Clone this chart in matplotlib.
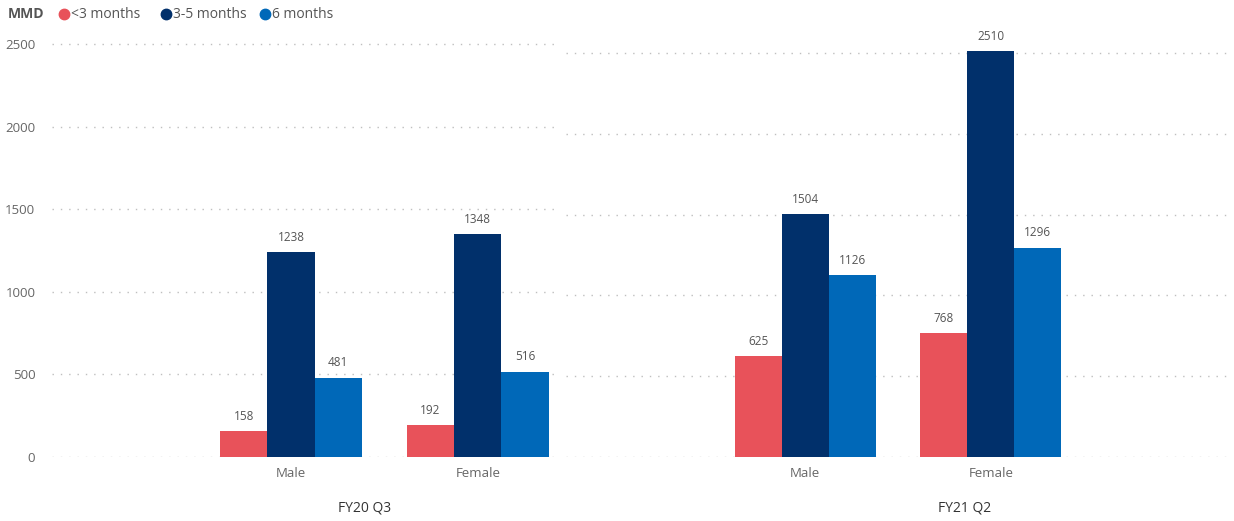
import matplotlib.pyplot as plt
from matplotlib.lines import Line2D
import numpy as np

plt.rcParams['font.family'] = ['Open Sans', 'DejaVu Sans']

W, H = 1234, 521

periods = ['FY20 Q3', 'FY21 Q2']
genders = ['Male', 'Female']
series = ['<3 months', '3-5 months', '6 months']
colors = ['#E8525A', '#01306B', '#0068B8']

# values[period][series] -> [Male, Female]
values = {
    'FY20 Q3': {'<3 months': [158, 192], '3-5 months': [1238, 1348], '6 months': [481, 516]},
    'FY21 Q2': {'<3 months': [625, 768], '3-5 months': [1504, 2510], '6 months': [1126, 1296]},
}
yticks = [0, 500, 1000, 1500, 2000, 2500]

fig = plt.figure(figsize=(W / 100, H / 100), dpi=100)


def px_axes(x0, x1, y_top, y_bot):
    return fig.add_axes([x0 / W, 1 - y_bot / H, (x1 - x0) / W, (y_bot - y_top) / H])


# panel geometry (pixels), x-limits in category units, pixels per unit value
panels = [
    dict(x0=52, x1=560, xlim=(-1.28, 1.44), scale=0.1652, ylab=True, tx=365),
    dict(x0=566, x1=1232, xlim=(-1.29, 2.30), scale=0.1616, ylab=False, tx=965),
]
bw = 0.253
top = 30
base = 457

for p, period in zip(panels, periods):
    ax = px_axes(p['x0'], p['x1'], top, base)
    ax.set_xlim(*p['xlim'])
    ax.set_ylim(0, (base - top) / p['scale'])
    x = np.arange(len(genders))
    for i, s in enumerate(series):
        vals = values[period][s]
        bars = ax.bar(x + (i - 1) * bw, vals, bw, color=colors[i], zorder=3)
        for b, v in zip(bars, vals):
            ax.annotate(str(v), (b.get_x() + b.get_width() / 2, v), xytext=(0, 6),
                        textcoords='offset points', ha='center', va='bottom',
                        fontsize=8.5, color='#555555')
    ax.set_yticks(yticks)
    ax.yaxis.grid(True, color='#BFBFBF', linestyle=(0, (1, 5)), linewidth=1, zorder=0)
    ax.set_xticks(x, genders)
    ax.tick_params(axis='x', length=0, pad=7.5, labelsize=9.5, labelcolor='#666666')
    ax.tick_params(axis='y', length=0, pad=12, labelsize=9.5, labelcolor='#666666')
    if not p['ylab']:
        ax.set_yticklabels([])
    for sp in ax.spines.values():
        sp.set_visible(False)
    fig.text(p['tx'] / W, 1 - 508 / H, period, ha='center', va='center',
             fontsize=10, color='#333333')

# legend
ly = 1 - 14 / H
fig.text(8 / W, ly, 'MMD', ha='left', va='center', fontsize=10,
         fontweight='bold', color='#555555')
lx = [64, 166, 265]
for x0, s, c in zip(lx, series, colors):
    fig.add_artist(Line2D([x0 / W], [ly], marker='o', markersize=7.5, color=c,
                          linestyle='none', transform=fig.transFigure))
    fig.text((x0 + 7) / W, ly, s, ha='left', va='center', fontsize=10,
             color='#555555')

fig.savefig('out.png', dpi=100)
